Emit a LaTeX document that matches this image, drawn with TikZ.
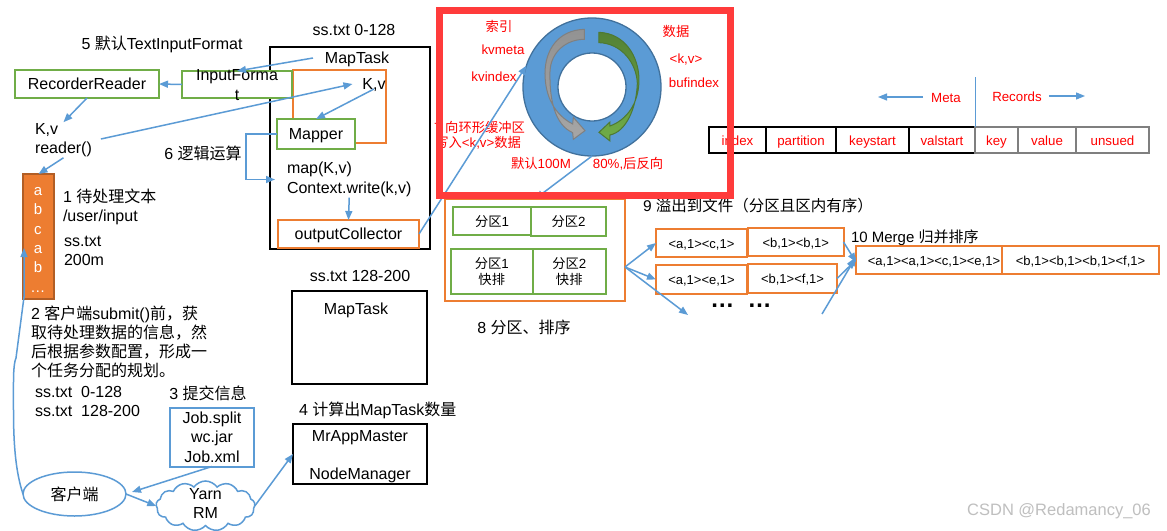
\documentclass[tikz,border=0pt]{standalone}
\usepackage{fontspec}
\setmainfont{Liberation Sans}
\newfontfamily\cjk{Noto Sans CJK SC}
\newcommand{\zh}[1]{{\cjk #1}}
\usetikzlibrary{arrows.meta,shapes.geometric,shapes.symbols}
\definecolor{flowblue}{HTML}{5B9BD5}
\definecolor{ringedge}{HTML}{41719C}
\definecolor{boxgreen}{HTML}{70AD47}
\definecolor{boxorange}{HTML}{ED7D31}
\definecolor{redframe}{HTML}{FF3B3B}
\definecolor{cellgray}{HTML}{7F7F7F}
\tikzset{
  every node/.style={outer sep=0pt},
  conn/.style={-{Triangle[width=7pt,length=9pt]},draw=flowblue,line width=1.5pt},
  connthin/.style={-{Triangle[width=7pt,length=9pt]},draw=flowblue,line width=1.2pt},
  onel/.style={text height=13pt,text depth=3pt},
  bigf/.style={font=\fontsize{16}{19.3}\selectfont},
  main/.style={bigf,inner sep=1pt,onel},
  multi/.style={bigf,inner sep=1pt},
  small/.style={font=\fontsize{13.3}{15}\selectfont,inner sep=1pt,onel},
  redtxt/.style={small,text=red},
  whitetxt/.style={main,text=white,font=\fontsize{15}{17}\selectfont},
  greenbox/.style={draw=boxgreen,line width=2pt,fill=white,inner sep=0pt,anchor=north west},
  orangebox/.style={draw=boxorange,line width=2pt,fill=white,inner sep=0pt,anchor=north west},
  pairbox/.style={orangebox,onel,font=\fontsize{13}{15}\selectfont},
  blackbox/.style={draw=black,line width=2pt,inner sep=0pt,anchor=north west},
  metacell/.style={draw=black,line width=1.6pt,inner sep=0pt,anchor=north west,minimum height=26pt,text=red,onel,font=\fontsize{13.3}{15}\selectfont},
  reccell/.style={draw=cellgray,line width=1.6pt,inner sep=0pt,anchor=north west,minimum height=26pt,text=red,onel,font=\fontsize{13.3}{15}\selectfont},
}
\begin{document}
\begin{tikzpicture}[x=1pt,y=-1pt]
\useasboundingbox (0,0) rectangle (1167,530);
\fill[white] (0,0) rectangle (1167,530);

% ---------- MapTask 1
\node[main] (lblSplitA) at (354,30) {ss.txt 0-128};
\node[main] (lblFive) at (162,44) {5 \zh{默认}TextInputFormat};
\node[blackbox,minimum width=160pt,minimum height=202pt] (bTaskA) at (270,47) {};
\node[main] (tMapTask) at (357,58) {MapTask};
\node[orangebox,minimum width=93pt,minimum height=73pt] (bKv) at (293,70) {};
\node[greenbox,minimum width=144pt,minimum height=28pt,bigf,onel] (bRec) at (15,70) {RecorderReader};
\node[greenbox,minimum width=110pt,minimum height=27pt,bigf] (bInput) at (182,71) {\smash{\raisebox{-5pt}{\parbox{110pt}{\centering InputForma\\t}}}};
\node[main] (tKv) at (374,84) {K,v};
\node[greenbox,minimum width=78pt,minimum height=30pt,bigf,onel] (bMapper) at (277,119) {Mapper};
\node[multi,align=left,anchor=west] (tReader) at (34,140) {K,v\\reader()};
\node[main] (lblSix) at (203,154) {6 \zh{逻辑运算}};
\node[multi,align=left,anchor=west] (tMap) at (286,179.5) {map(K,v)\\Context.write(k,v)};
\node[orangebox,minimum width=141pt,minimum height=28pt,bigf,onel] (bOut) at (278,220) {outputCollector};

% ---------- input text block
\node[draw=boxorange!75!black,fill=boxorange,line width=1.5pt,minimum width=31pt,minimum height=125pt,inner sep=0pt,anchor=north west] (bAbc) at (23,174) {};
\node[whitetxt] (la1) at (38,190) {a};
\node[whitetxt] (lb1) at (38,209) {b};
\node[whitetxt] (lc1) at (38,229) {c};
\node[whitetxt] (la2) at (38,248) {a};
\node[whitetxt] (lb2) at (38,267) {b};
\node[whitetxt] (ldots) at (38,287) {\dots};
\node[multi,align=left,anchor=west] (tOne) at (62,207) {1 \zh{待处理文本}\\/user/input};
\node[multi,align=left,anchor=west] (tSs) at (63,251) {ss.txt\\200m};
\node[multi,align=left,anchor=north west] (tTwo) at (30,304.5) {2 \zh{客户端}submit()\zh{前，获}\\\zh{取待处理数据的信息，然}\\\zh{后根据参数配置，形成一}\\\zh{个任务分配的规划。}};
\node[multi,align=left,anchor=west] (tPlan) at (34,401.5) {ss.txt\ \ 0-128\\ss.txt\ \ 128-200};

% ---------- lower middle
\node[main] (lblThree) at (208,394) {3 \zh{提交信息}};
\node[draw=flowblue,line width=2pt,minimum width=84pt,minimum height=59pt,inner sep=0pt,anchor=north west,align=center,bigf] (bJob) at (170,407.5) {Job.split\\wc.jar\\Job.xml};
\node[main,anchor=west] (lblFour) at (298,410) {4 \zh{计算出}MapTask\zh{数量}};
\node[main] (lblSplitB) at (360,276) {ss.txt 128-200};
\node[blackbox,minimum width=135pt,minimum height=93pt] (bTaskB) at (292,291) {};
\node[main] (tMapTaskB) at (356,309) {MapTask};
\node[blackbox,minimum width=134pt,minimum height=60pt] (bMaster) at (293,424) {};
\node[main] (tMaster) at (360,436) {MrAppMaster};
\node[main] (tManager) at (360,474) {NodeManager};
\node[ellipse,draw=flowblue,line width=1.5pt,fill=white,minimum width=103pt,minimum height=44pt,inner sep=0pt,bigf] (client) at (74.5,494) {\zh{客户端}};
\node[cloud,cloud puffs=13,cloud puff arc=110,aspect=2,draw=flowblue,line width=1.5pt,fill=white,minimum width=99pt,minimum height=50pt,inner sep=0pt,bigf] (cloudRm) at (205.5,506) {\smash{\raisebox{-2pt}{\parbox{50pt}{\centering Yarn\\RM}}}};

% ---------- table (right)
\node[metacell,minimum width=57pt] (cIndex) at (709,127) {index};
\node[metacell,minimum width=70pt] (cPart) at (766,127) {partition};
\node[metacell,minimum width=73pt] (cKeyS) at (836,127) {keystart};
\node[metacell,minimum width=66pt] (cValS) at (909,127) {valstart};
\node[reccell,minimum width=43pt] (cKey) at (975,127) {key};
\node[reccell,minimum width=58pt] (cVal) at (1018,127) {value};
\node[reccell,minimum width=73pt] (cUns) at (1076,127) {unsued};
\node[redtxt] (tMeta) at (946,97) {Meta};
\node[redtxt] (tRecords) at (1017,96) {Records};
\coordinate (cSplitTop) at (975,77);
\coordinate (cMetaEnd) at (878,97);
\coordinate (cRecEnd) at (1085,96);
\draw[draw=flowblue,line width=1pt] (cSplitTop) -- (cValS.north east);
\draw[connthin] ([xshift=-7pt]tMeta.west) -- (cMetaEnd);
\draw[connthin] ([xshift=6pt]tRecords.east) -- (cRecEnd);

% ---------- partition block
\node[draw=boxorange,line width=1.5pt,minimum width=180pt,minimum height=102pt,inner sep=0pt,anchor=north west,fill=white] (bPart) at (445,199) {};
\node[greenbox,minimum width=79pt,minimum height=28pt,onel,font=\fontsize{13.3}{15}\selectfont] (bP1) at (452.5,207) {\zh{分区}1};
\node[greenbox,minimum width=75pt,minimum height=29pt,onel,font=\fontsize{13.3}{15}\selectfont] (bP2) at (531,207) {\zh{分区}2};
\node[greenbox,minimum width=81.5pt,minimum height=45pt,align=center,font=\fontsize{13.3}{16.5}\selectfont] (bQ1) at (451,249) {\zh{分区}1\\\zh{快排}};
\node[greenbox,minimum width=73.5pt,minimum height=45pt,align=center,font=\fontsize{13.3}{16.5}\selectfont] (bQ2) at (532.5,249) {\zh{分区}2\\\zh{快排}};
\node[main] (lblEight) at (524,328) {8 \zh{分区、排序}};
\node[main,anchor=west,font=\fontsize{15.5}{17}\selectfont] (lblNine) at (642,206.5) {9 \zh{溢出到文件（分区且区内有序）}};
\node[main,anchor=west,font=\fontsize{15}{17}\selectfont] (lblTen) at (850,237) {10 Merge \zh{归并排序}};
\node[pairbox,minimum width=91pt,minimum height=28pt] (bAC) at (656,229) {<a,1><c,1>};
\node[pairbox,minimum width=95.5pt,minimum height=28pt] (bBB) at (748,228) {<b,1><b,1>};
\node[pairbox,minimum width=91pt,minimum height=29pt] (bAE) at (656,265) {<a,1><e,1>};
\node[pairbox,minimum width=89pt,minimum height=29pt] (bBF) at (748,264) {<b,1><f,1>};
\node[pairbox,fill=none,line width=1.8pt,minimum width=146pt,minimum height=28pt] (bMergeA) at (856,246) {\hspace*{10pt}<a,1><a,1><c,1><e,1>};
\node[pairbox,fill=none,line width=1.8pt,minimum width=157pt,minimum height=28pt] (bMergeB) at (1002,246) {<b,1><b,1><b,1><f,1>};
\node[inner sep=0pt,font=\fontsize{24}{24}\bfseries\selectfont] (tDots) at (741,306) {\dots\ \ \dots};
\coordinate (cFan) at (625,267);
\coordinate (cDotsIn) at (688,315);
\coordinate (cDotsOut) at (822,314);
\draw[conn] (cFan) -- (bAC.west);
\draw[conn] (cFan) -- (bAE.west);
\draw[conn] (cFan) -- (cDotsIn);
\draw[conn] (bBB.east) -- ([yshift=-2pt]bMergeA.west);
\draw[conn] (bBF.east) -- (bMergeA.west);
\draw[conn] (cDotsOut) -- ([yshift=3pt]bMergeA.west);

% ---------- ring buffer
\node[circle,draw=ringedge,fill=flowblue,line width=1.3pt,minimum size=138pt,inner sep=0pt] (ring) at (592,87) {};
\node[circle,draw=ringedge,fill=white,line width=1.3pt,minimum size=68pt,inner sep=0pt] (ringHole) at (592,87) {};
\begin{scope}[shift={(430,0)},x=0.3333pt,y=-0.3333pt]
\draw[top color=gray!85,bottom color=gray!70,draw=gray,line width=1pt] (463,88) .. controls (385,90) and (345,150) .. (345,220) .. controls (345,290) and (375,345) .. (428,372) -- (430,352) -- (465,392) -- (430,418) -- (428,398) .. controls (375,375) and (358,300) .. (360,215) .. controls (362,155) and (410,118) .. (463,118) -- cycle;
\draw[top color=boxgreen!75!black,bottom color=boxgreen,draw=boxgreen!70!black,line width=1pt] (507,97) .. controls (585,100) and (627,170) .. (627,240) .. controls (627,310) and (590,360) .. (540,378) -- (540,366) -- (507,397) -- (540,423) -- (540,405) .. controls (590,395) and (620,320) .. (622,250) .. controls (620,190) and (575,130) .. (507,128) -- cycle;
\end{scope}
\node[redtxt] (tIdx) at (499,26) {\zh{索引}};
\node[redtxt] (tMetaK) at (503,49) {kvmeta};
\node[redtxt] (tKvIdx) at (494,76) {kvindex};
\node[redtxt] (tData) at (676,31) {\zh{数据}};
\node[redtxt] (tKvPair) at (686,58) {<k,v>};
\node[redtxt] (tBuf) at (694,82) {bufindex};
\node[redtxt,anchor=east] (tSeven) at (526,127) {7 \zh{向环形缓冲区}};
\node[redtxt,anchor=east] (tWrite) at (522,142) {\zh{写入}<k,v>\zh{数据}};
\node[redtxt] (t100) at (541,163) {\zh{默认}100M};
\node[redtxt] (t80) at (628,163) {80\%,\zh{后反向}};

% ---------- connectors
\draw[conn] ([xshift=-11pt]tMapTask.west) -- (bInput.north);
\draw[conn] (bInput.west) -- (bRec.east);
\draw[conn] (bRec.south) -- (tReader.north);
\draw[conn] ([xshift=8pt,yshift=1pt]tReader.east) -- ([xshift=-9pt]tKv.west);
\draw[conn] ([yshift=4pt]tKv.south) -- (bMapper.north);
\draw[conn] (bMapper.west) -- ++(-31,0) |- ([xshift=-11pt]tMap.west);
\draw[conn] (tMap.south) -- (bOut.north);
\draw[conn] (tReader.south) -- (bAbc.north);
\coordinate (cAbcIn) at (24,248);
\draw[conn] (client.west) .. controls (15,470) and (13.5,440) .. (13.5,410) .. controls (13.5,380) and (13,365) .. (16,358) -- (24,297) -- (cAbcIn);
\draw[conn] (bOut.east) -- (ring.162);
\draw[conn] (ring.south) -- (bPart.north);
\draw[conn] (bJob.south) -- ([xshift=6pt,yshift=2pt]client.east);
\draw[conn] (client.east) -- (cloudRm.west);
\draw[conn] (cloudRm.east) -- (bMaster.west);

% ---------- red frame
\node[draw=redframe,line width=7pt,minimum width=291pt,minimum height=185pt,inner sep=0pt,anchor=north west] (frame) at (439.5,10.5) {};

\node[font=\fontsize{16.5}{18}\selectfont,text=gray!50,inner sep=0pt] (mark) at (1059,511) {CSDN @Redamancy\_06};
\end{tikzpicture}
\end{document}
